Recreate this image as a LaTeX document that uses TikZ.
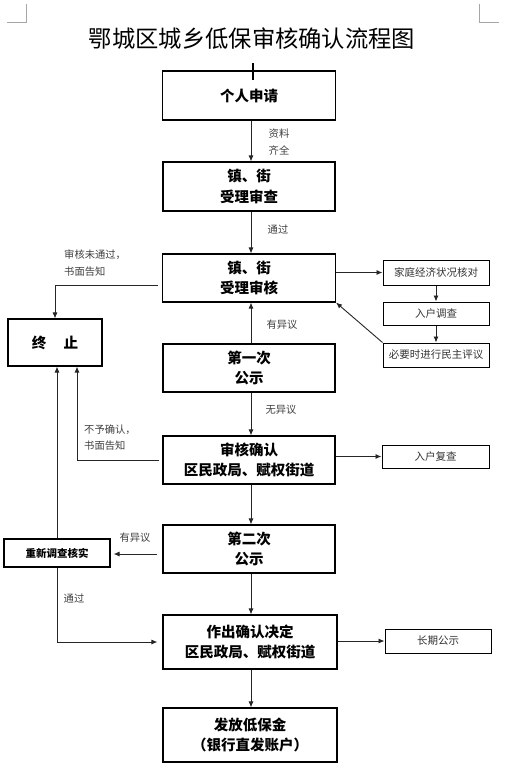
\documentclass[tikz,border=0pt]{standalone}
\usepackage{fontspec}
\setmainfont{Noto Sans CJK SC}
\usetikzlibrary{arrows.meta}
\begin{document}
\begin{tikzpicture}[x=1pt,y=-1pt,
  mainbox/.style={draw, line width=1.1pt, inner sep=0pt, align=center,
    font=\bfseries\fontsize{14.5}{20.5}\selectfont},
  sidebox/.style={draw, line width=1pt, inner sep=0pt, align=center,
    text=black!80, font=\fontsize{10.5}{12}\selectfont},
  conn/.style={draw=black!85, line width=0.9pt, -{Latex[length=6pt,width=5pt]}},
  lbl/.style={text=black!75, font=\fontsize{10.3}{17}\selectfont, inner sep=0pt},
  cornermark/.style={draw=black!35, line width=0.8pt}]
\useasboundingbox[fill=white] (0,0) rectangle (509,780);
% page corner marks
\draw[cornermark] (7,22) -- (26,22) -- (26,4);
\draw[cornermark] (479,4) -- (479,22) -- (499,22);
% title
\node[font=\fontsize{23.3}{25}\selectfont] (title) at (252,39) {鄂城区城乡低保审核确认流程图};
% main column
\node[mainbox, minimum width=173, minimum height=49] (a) at (249,95.5) {个人申请};
\node[mainbox, minimum width=172, minimum height=49] (b) at (249,186.5) {镇、街\\受理审查};
\node[mainbox, minimum width=173, minimum height=48] (c) at (249,278) {镇、街\\受理审核};
\node[mainbox, minimum width=172, minimum height=48] (d) at (249,368) {第一次\\公示};
\node[mainbox, minimum width=172, minimum height=48] (e) at (249,460) {审核确认\\区民政局、赋权街道};
\node[mainbox, minimum width=172, minimum height=48] (f) at (249,549) {第二次\\公示};
\node[mainbox, minimum width=174, minimum height=54] (g) at (250,642) {作出确认决定\\区民政局、赋权街道};
\node[mainbox, minimum width=174, minimum height=54] (h) at (250,735) {发放低保金\\（银行直发账户）};
% left boxes
\node[mainbox, minimum width=94, minimum height=47] (t) at (55,342.5) {终\hspace{1.2em}止};
\node[mainbox, minimum width=106, minimum height=28, font=\bfseries\fontsize{10.5}{12}\selectfont] (r) at (57,553) {重新调查核实};
% right boxes
\node[sidebox, minimum width=106, minimum height=25] (k1) at (436,272.5) {家庭经济状况核对};
\node[sidebox, minimum width=106, minimum height=23] (k2) at (436,313.5) {入户调查};
\node[sidebox, minimum width=106, minimum height=24] (k3) at (436,355) {必要时进行民主评议};
\node[sidebox, minimum width=107, minimum height=23] (k4) at (435.5,456.5) {入户复查};
\node[sidebox, minimum width=106, minimum height=24] (k5) at (438,641) {长期公示};
% cursor tick
\coordinate (tickA) at (253,63);
\draw[line width=1.6pt] (tickA) -- ++(0,17);
% connectors
\draw[conn] ([xshift=2pt]a.south) -- ([xshift=2pt]b.north);
\draw[conn] ([xshift=2pt]b.south) -- ([xshift=2pt]c.north);
\draw[conn] ([xshift=2pt]d.north) -- ([xshift=2pt]c.south);
\draw[conn] ([xshift=2pt]d.south) -- ([xshift=2pt]e.north);
\draw[conn] ([xshift=2pt]e.south) -- ([xshift=2pt]f.north);
\draw[conn] ([xshift=2pt]f.south) -- ([xshift=1pt]g.north);
\draw[conn] ([xshift=1pt]g.south) -- ([xshift=1pt]h.north);
\draw[conn] ([xshift=-4pt,yshift=-7pt]c.west) -| (t.north);
\draw[conn] ([xshift=-3pt]e.west) -| ([xshift=22pt]t.south);
\draw[conn] (r.north) -- (r.north |- t.south);
\draw[conn] (r.south) |- ([xshift=-5pt]g.west);
\draw[conn] ([xshift=-5pt,yshift=-5pt]f.west) -- ([xshift=3pt,yshift=-5pt]f.west -| r.east);
\draw[conn] (k1.west -| c.east) -- (k1.west);
\draw[conn] (k1.south) -- (k2.north);
\draw[conn] (k2.south) -- (k3.north);
\draw[conn] (k3.north west) -- (c.south east);
\draw[conn] (k4.west -| e.east) -- (k4.west);
\draw[conn] (k5.west -| g.east) -- (k5.west);
% labels
\node[lbl, align=left] (l1) at (279,142) {资料\\齐全};
\node[lbl] (l2) at (278,230) {通过};
\node[lbl, align=left, anchor=west] (l3) at (64,263) {审核未通过，\\书面告知};
\node[lbl] (l4) at (282,325) {有异议};
\node[lbl] (l5) at (281,410) {无异议};
\node[lbl, align=left, anchor=west, font=\fontsize{10.3}{16}\selectfont] (l6) at (84,438) {不予确认，\\书面告知};
\node[lbl] (l7) at (135,538) {有异议};
\node[lbl] (l8) at (74,599) {通过};
\end{tikzpicture}
\end{document}
